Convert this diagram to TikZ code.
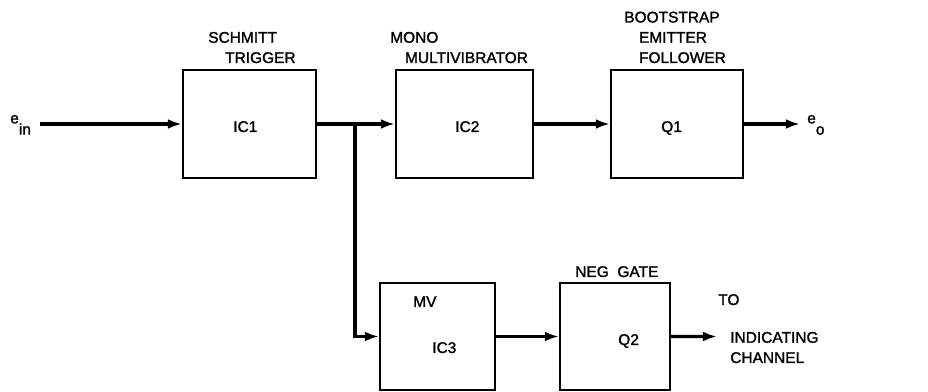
\documentclass[tikz,border=0pt]{standalone}
\usepackage{fontspec}
\newfontfamily\lblfont{Liberation Sans}[FakeBold=1.5]
\usetikzlibrary{arrows.meta,fit}

\begin{document}
\begin{tikzpicture}[x=0.025cm, y=-0.025cm,
  blk/.style={draw, line width=1.6pt, inner sep=0pt},
  wire/.style={line width=2.2pt, -{Latex[length=10pt,width=7pt]}},
  txt/.style={anchor=base west, inner sep=0pt, align=left,
    font=\lblfont\fontsize{11}{14.4}\selectfont}]

\useasboundingbox (0,0) rectangle (928,392);

% Rows of the diagram
\def\TopA{70}  \def\TopB{178}
\def\BotA{283} \def\BotB{390}

% Blocks
\node[blk, fit={(183,\TopA) (316,\TopB)}] (ic1) {};
\node[blk, fit={(396,\TopA) (533,\TopB)}] (ic2) {};
\node[blk, fit={(611,\TopA) (743,\TopB)}] (q1) {};
\node[blk, fit={(380,\BotA) (495,\BotB)}] (ic3) {};
\node[blk, fit={(560,\BotA) (670,\BotB)}] (q2) {};

% Texts in the blocks
\node[txt] (ic1t) at (233,132) {IC1};
\node[txt] (ic2t) at (455,132) {IC2};
\node[txt] (q1t) at (661,132) {Q1};
\node[txt] (mvt) at (413,307) {MV};
\node[txt] (ic3t) at (432,353) {IC3};
\node[txt] (q2t) at (618,345) {Q2};

% Titles above the blocks (base = last line)
\node[txt] (schmitt) at (208,63) {SCHMITT\\\hspace*{12pt}TRIGGER};
\node[txt] (mono) at (390,63) {MONO\\\hspace*{10.5pt}MULTIVIBRATOR};
\node[txt] (boot) at (624,63) {BOOTSTRAP\\\hspace*{10.5pt}EMITTER\\\hspace*{10.5pt}FOLLOWER};
\node[txt] (neg) at (575,277) {NEG\ \ GATE};

% Input and outputs
\node[txt] (ein) at (10,129) {\raisebox{4pt}{e}\raisebox{-4pt}{in}};
\node[txt] (eo) at (807,129) {\raisebox{4pt}{e}\raisebox{-4pt}{o}};
\node[txt] (to) at (718,305) {TO};
\node[txt] (ind) at (730,363) {INDICATING\\CHANNEL};
\coordinate (inp) at (40,124);
\coordinate (br) at (355,124);
\coordinate (eoend) at (800,124);
\coordinate (indend) at (717,336.5);

% Signal lines
\draw[wire] (inp) -- (ic1.west);
\draw[wire] (ic1.east) -- (ic2.west);
\draw[wire] (br) |- (ic3.west);
\draw[wire] (ic2.east) -- (q1.west);
\draw[wire] (q1.east) -- (eoend);
\draw[wire] (ic3.east) -- (q2.west);
\draw[wire] (q2.east) -- (indend);

\end{tikzpicture}
\end{document}
